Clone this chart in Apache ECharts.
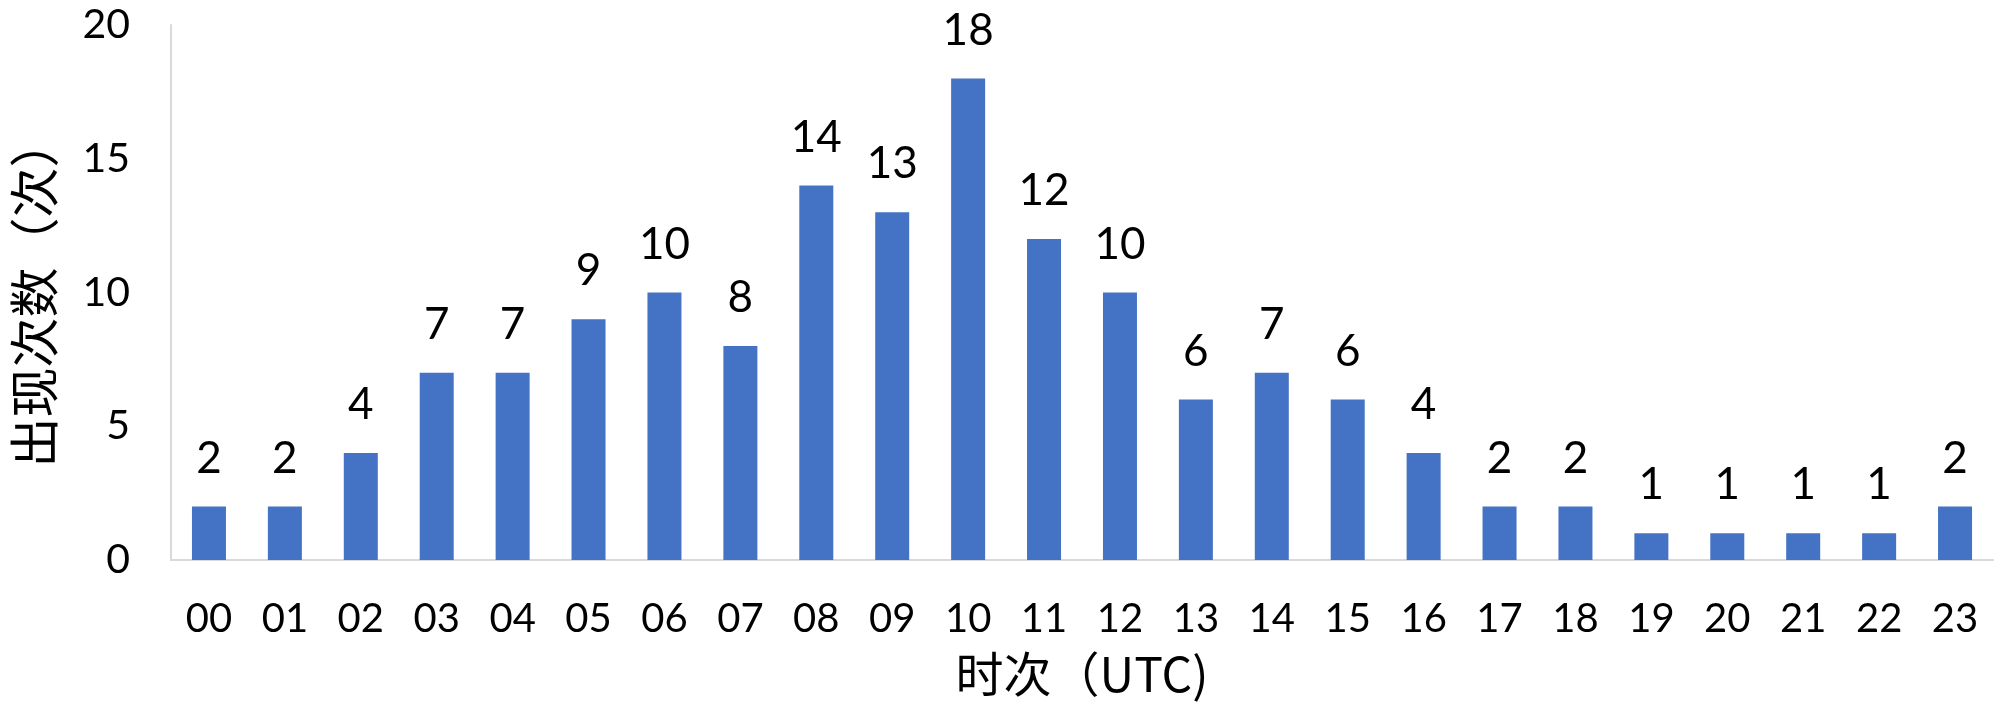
<!DOCTYPE html>
<html><head><meta charset="utf-8">
<script src="https://cdn.jsdelivr.net/npm/echarts@6/dist/echarts.min.js"></script>
<style>html,body{margin:0;padding:0;background:#fff}#c{width:2000px;height:710px}</style>
</head><body><div id="c"></div>
<script>
const categories = ['00','01','02','03','04','05','06','07','08','09','10','11','12','13','14','15','16','17','18','19','20','21','22','23'];
const counts = [2,2,4,7,7,9,10,8,14,13,18,12,10,6,7,6,4,2,2,1,1,1,1,2];
const yTicks = {min: 0, max: 20, interval: 5};
const yAxisName = '出现次数（次）';
const xAxisName = '时次（UTC)';
const chart = echarts.init(document.getElementById('c'));
chart.setOption({
  animation: false,
  grid: {left: 171, right: 7, top: 25, bottom: 150, containLabel: false, outerBoundsMode: 'none'},
  xAxis: {
    type: 'category', data: categories,
    name: xAxisName, nameLocation: 'middle', nameGap: 90,
    nameTextStyle: {fontFamily: 'Noto Sans CJK SC', fontSize: 48, color: '#000'},
    axisLine: {lineStyle: {color: '#d9d9d9', width: 2}},
    axisTick: {show: false},
    axisLabel: {fontFamily: 'Lato', fontSize: 40, color: '#000', margin: 39}
  },
  yAxis: {
    type: 'value', min: yTicks.min, max: yTicks.max, interval: yTicks.interval,
    name: yAxisName, nameLocation: 'middle', nameGap: 112, nameRotate: 90,
    nameTextStyle: {fontFamily: 'Noto Sans CJK SC', fontSize: 50, color: '#000'},
    axisLine: {show: true, lineStyle: {color: '#d9d9d9', width: 2}},
    axisTick: {show: false},
    splitLine: {show: false},
    axisLabel: {fontFamily: 'Lato', fontSize: 41, color: '#000', margin: 41}
  },
  series: [{
    type: 'bar', data: counts, barWidth: 34,
    itemStyle: {color: '#4472C4'},
    label: {show: true, position: 'top', distance: 26, fontFamily: 'Lato', fontSize: 44, color: '#000'}
  }]
});
</script></body></html>
